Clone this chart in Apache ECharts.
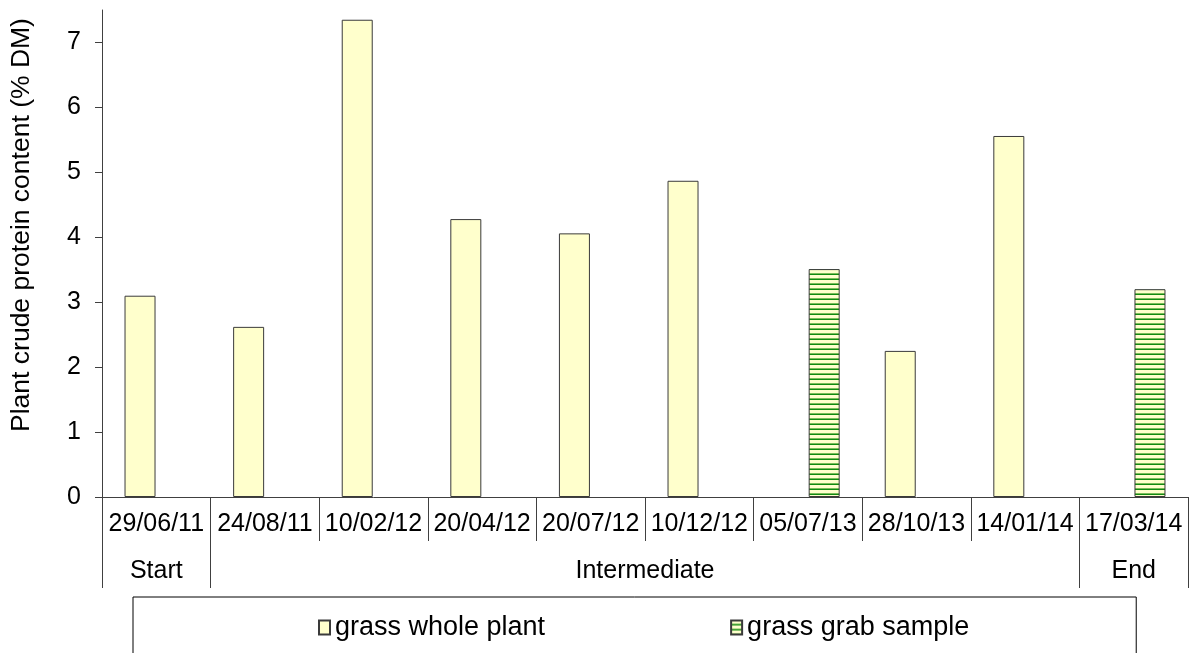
<!DOCTYPE html>
<html>
<head>
<meta charset="utf-8">
<script src="https://cdn.jsdelivr.net/npm/echarts@6/dist/echarts.min.js"></script>
<style>
html,body{margin:0;padding:0;background:#fff;}
#c{width:1198px;height:653px;}
</style>
</head>
<body>
<div id="c"></div>
<script>
// ---- data ----
var categories = ['29/06/11','24/08/11','10/02/12','20/04/12','20/07/12','10/12/12','05/07/13','28/10/13','14/01/14','17/03/14'];
var wholePlant = [3.10, 2.62, 7.35, 4.28, 4.06, 4.87, null, 2.25, 5.56, null];
var grabSample = [null, null, null, null, null, null, 3.51, null, null, 3.20];
var groupNames = ['Start', 'Intermediate', 'End'];
var groupSizes = [1, 8, 1];
var yTicks = [0, 1, 2, 3, 4, 5, 6, 7];
var yMax = 7.5;
var yTitle = 'Plant crude protein content (% DM)';
var seriesNames = ['grass whole plant', 'grass grab sample'];

// group boundaries and centers derived from group sizes
var groupBounds = [0], groupCenters = [];
(function(){
  var acc = 0;
  for (var i = 0; i < groupSizes.length; i++) {
    groupCenters.push(acc + groupSizes[i] / 2);
    acc += groupSizes[i];
    groupBounds.push(acc);
  }
})();

// striped pattern
var pc = document.createElement('canvas');
pc.width = 4; pc.height = 5;
var g = pc.getContext('2d');
g.fillStyle = '#FFFFCC'; g.fillRect(0, 0, 4, 5);
g.fillStyle = '#7cbd5a'; g.fillRect(0, 3, 4, 1);
g.fillStyle = '#118a11'; g.fillRect(0, 4, 4, 1);

var FONT = "'Liberation Sans', Arial, sans-serif";
var AX = '#404040';

var chart = echarts.init(document.getElementById('c'), null, {renderer: 'canvas'});
chart.setOption({
  animation: false,
  backgroundColor: '#fff',
  textStyle: {fontFamily: FONT},
  grid: {left: 102, right: 10, top: 10, bottom: 156, containLabel: false},
  xAxis: [{
    type: 'category',
    data: categories,
    axisLine: {lineStyle: {color: AX, width: 1}},
    axisTick: {show: true, interval: 0, length: 44, lineStyle: {color: AX}},
    axisLabel: {interval: 0, fontSize: 25, color: '#000', fontFamily: FONT, margin: 15}
  }, {
    type: 'value',
    position: 'bottom',
    offset: 44,
    min: 0,
    max: categories.length,
    axisLine: {show: false},
    splitLine: {show: false},
    axisTick: {show: true, length: 47, customValues: groupBounds, lineStyle: {color: AX}},
    axisLabel: {
      fontSize: 25, color: '#000', fontFamily: FONT, margin: 18,
      customValues: groupCenters,
      formatter: function (v) {
        var i = groupCenters.indexOf(v);
        return i >= 0 ? groupNames[i] : '';
      }
    }
  }],
  yAxis: {
    type: 'value',
    min: 0,
    max: yMax,
    interval: 1,
    axisLine: {show: true, lineStyle: {color: AX, width: 1}},
    axisTick: {show: true, length: 7, customValues: yTicks, lineStyle: {color: AX}},
    axisLabel: {fontSize: 25, color: '#000', fontFamily: FONT, margin: 21, customValues: yTicks},
    splitLine: {show: false}
  },
  legend: {
    left: 133,
    top: 597,
    padding: [17, 167, 40, 185],
    itemGap: 185,
    itemWidth: 11,
    itemHeight: 14,
    icon: 'rect',
    borderColor: '#000',
    borderWidth: 1,
    textStyle: {fontSize: 27, color: '#000', fontFamily: FONT},
    data: seriesNames
  },
  graphic: [{
    type: 'text',
    x: 22, y: 225,
    rotation: Math.PI / 2,
    style: {
      text: yTitle,
      font: "26.5px 'Liberation Sans', Arial, sans-serif",
      fill: '#000',
      textAlign: 'center',
      textVerticalAlign: 'middle'
    }
  }],
  series: [{
    name: seriesNames[0],
    type: 'bar',
    data: wholePlant,
    barWidth: 31,
    barGap: '5%',
    itemStyle: {color: '#FFFFCC', borderColor: '#3a3a3a', borderWidth: 1}
  }, {
    name: seriesNames[1],
    type: 'bar',
    data: grabSample,
    barWidth: 31,
    barGap: '5%',
    itemStyle: {color: {image: pc, repeat: 'repeat'}, borderColor: '#3a3a3a', borderWidth: 1}
  }]
});
</script>
</body>
</html>
